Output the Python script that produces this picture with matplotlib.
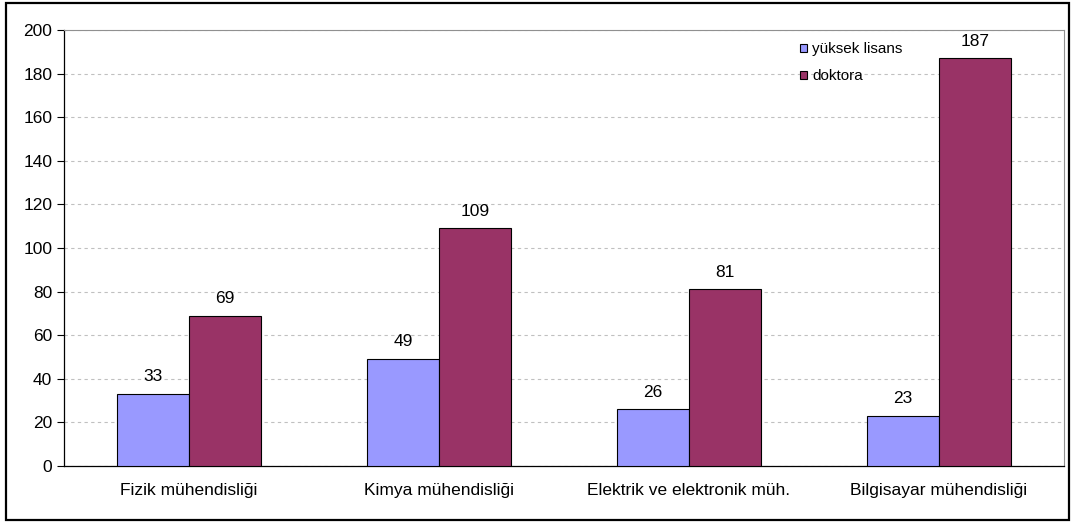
import matplotlib
matplotlib.use("Agg")
import matplotlib.pyplot as plt
from matplotlib.patches import Rectangle
import numpy as np

plt.rcParams['font.family'] = ['Liberation Sans', 'DejaVu Sans']

categories = ["Fizik mühendisliği", "Kimya mühendisliği", "Elektrik ve elektronik müh.", "Bilgisayar mühendisliği"]
yuksek_lisans = [33, 49, 26, 23]
doktora = [69, 109, 81, 187]
series_names = ["yüksek lisans", "doktora"]
colors = ["#9999FF", "#993366"]

fig = plt.figure(figsize=(10.72, 5.22), dpi=100)
ax = fig.add_axes([64/1072, 1-466/522, 1000/1072, 436/522])

x = np.arange(len(categories))
w = 0.288
b1 = ax.bar(x - w/2, yuksek_lisans, w, color=colors[0], edgecolor="black", linewidth=0.8, label=series_names[0], zorder=3)
b2 = ax.bar(x + w/2, doktora, w, color=colors[1], edgecolor="black", linewidth=0.8, label=series_names[1], zorder=3)

for bars, vals in ((b1, yuksek_lisans), (b2, doktora)):
    for r, v in zip(bars, vals):
        ax.annotate(str(v), (r.get_x() + r.get_width()/2, v), xytext=(0, 7),
                    textcoords="offset points", ha="center", va="bottom", fontsize=12.5)

ax.set_xlim(-0.5, len(categories) - 0.5)
ax.set_ylim(0, 200)
ax.set_yticks(np.arange(0, 201, 20))
ax.set_xticks(x)
ax.set_xticklabels(categories, fontsize=12.5)
ax.tick_params(axis="y", labelsize=12.5, length=5, width=0.8, direction="out")
ax.tick_params(axis="x", length=0, pad=12)
ax.yaxis.grid(True, linestyle=(0, (3, 3)), color="#C0C0C0", linewidth=0.8, zorder=0)
ax.set_axisbelow(True)
for s in ("top", "right"):
    ax.spines[s].set_color("#909090")
    ax.spines[s].set_linewidth(0.8)
for s in ("left", "bottom"):
    ax.spines[s].set_color("black")
    ax.spines[s].set_linewidth(0.9)

leg = ax.legend(loc="upper left", bbox_to_anchor=(0.736, 0.972), frameon=False,
                fontsize=11, handlelength=0.45, handleheight=0.45, handletextpad=0.35,
                labelspacing=0.85, borderaxespad=0, borderpad=0)

fig.patches.append(Rectangle((6/1072, 2/522), 1063/1072, 517/522, transform=fig.transFigure,
                             fill=False, edgecolor="black", linewidth=1.6))

fig.savefig("out.png", dpi=100)
